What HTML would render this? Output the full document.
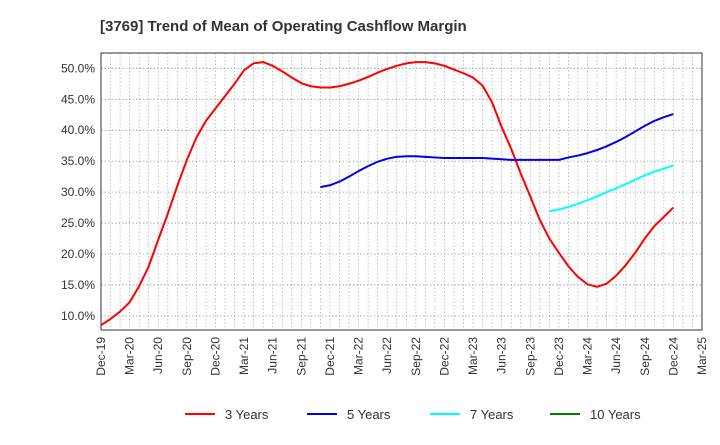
<!DOCTYPE html>
<html><head><meta charset="utf-8"><style>
body{margin:0;background:#fff;font-family:"Liberation Sans",Arial,sans-serif;}
svg text{font-family:"Liberation Sans",Arial,sans-serif;}
</style></head><body>
<svg id="c" width="720" height="440" xmlns="http://www.w3.org/2000/svg">
<text x="100" y="31" font-size="15" font-weight="bold" fill="#333">[3769]  Trend of Mean of Operating Cashflow Margin</text>
<g id="grid"></g>
<rect x="101" y="53" width="601" height="277" fill="none" stroke="#333" stroke-width="1"/>
<g id="ylab"></g><g id="xlab"></g><g id="series"></g><g id="legend"></g>
</svg>
<script>
const yTicks=[10,15,20,25,30,35,40,45,50];
const xTickLabels=["Dec-19","Mar-20","Jun-20","Sep-20","Dec-20","Mar-21","Jun-21","Sep-21","Dec-21","Mar-22","Jun-22","Sep-22","Dec-22","Mar-23","Jun-23","Sep-23","Dec-23","Mar-24","Jun-24","Sep-24","Dec-24","Mar-25"];
const s3Start=0;
const s3=[8.5,9.5,10.7,12.2,14.8,18,22.3,26.5,31,35.2,38.8,41.5,43.5,45.5,47.5,49.7,50.8,51,50.4,49.5,48.5,47.6,47.1,46.9,46.9,47.1,47.5,48,48.6,49.3,49.9,50.4,50.8,51,51,50.8,50.4,49.8,49.2,48.5,47.2,44.5,40.5,37,33,29.3,25.5,22.5,20.2,18,16.3,15.1,14.7,15.2,16.5,18.2,20.2,22.5,24.5,26,27.5];
const s5Start=23;
const s5=[30.8,31.1,31.7,32.5,33.4,34.2,34.9,35.4,35.7,35.8,35.8,35.7,35.6,35.5,35.5,35.5,35.5,35.5,35.4,35.3,35.2,35.2,35.2,35.2,35.2,35.2,35.6,35.9,36.3,36.8,37.4,38.1,38.9,39.8,40.7,41.5,42.1,42.6];
const s7Start=47;
const s7=[26.9,27.2,27.6,28.1,28.7,29.3,30,30.6,31.3,32,32.7,33.3,33.8,34.3];
const s10Start=0;
const s10=[];
const NS="http://www.w3.org/2000/svg";
const X0=101,X1=702,Y0=53,Y1=330,nM=63;
const xs=i=>X0+i*(X1-X0)/nM;
const ys=v=>68.3+(50-v)*30.95/5;
function mk(t,a,p){const e=document.createElementNS(NS,t);for(const k in a)e.setAttribute(k,a[k]);p.appendChild(e);return e;}
const g=document.getElementById('grid');
for(let i=1;i<nM;i++){const l=mk('line',{x1:xs(i),x2:xs(i),y1:Y0,y2:Y1,stroke:'#aaa','stroke-dasharray':'1.5,2','stroke-width':0.7},g);

}
const yl=document.getElementById('ylab');
yTicks.forEach(v=>{const l=mk('line',{x1:X0,x2:X1,y1:ys(v),y2:ys(v),stroke:'#999','stroke-dasharray':'1.5,2','stroke-width':0.8},g);


const t=mk('text',{x:95,y:ys(v)+4,'text-anchor':'end','font-size':12,fill:'#333'},yl);t.textContent=v.toFixed(1)+'%';

});
const xl=document.getElementById('xlab');
xTickLabels.forEach((s,i)=>{const x=xs(i*3)+4;const t=mk('text',{x:x,y:337,'text-anchor':'end','font-size':12,fill:'#333',transform:`rotate(-90 ${x} 337)`},xl);t.textContent=s;

});
const sg=document.getElementById('series');
function line(arr,st,col,name){if(!arr.length)return;const p=mk('polyline',{points:arr.map((v,i)=>xs(st+i)+','+ys(v)).join(' '),fill:'none',stroke:col,'stroke-width':2,'stroke-linejoin':'round'},sg);

}
line(s3,s3Start,'#ff0000','series-3-years');
line(s5,s5Start,'#0000ee','series-5-years');
line(s7,s7Start,'#00ffff','series-7-years');
line(s10,s10Start,'#008000','series-10-years');
const lg=document.getElementById('legend');
[['3 Years','#ff0000',185],['5 Years','#0000ee',307],['7 Years','#00ffff',430],['10 Years','#008000',550]].forEach(([n,c,x])=>{
const gg=mk('g',{},lg);


mk('line',{x1:x,x2:x+30,y1:414,y2:414,stroke:c,'stroke-width':2},gg);
const t=mk('text',{x:x+40,y:419,'font-size':13,fill:'#333'},gg);t.textContent=n;});
</script>
</body></html>
